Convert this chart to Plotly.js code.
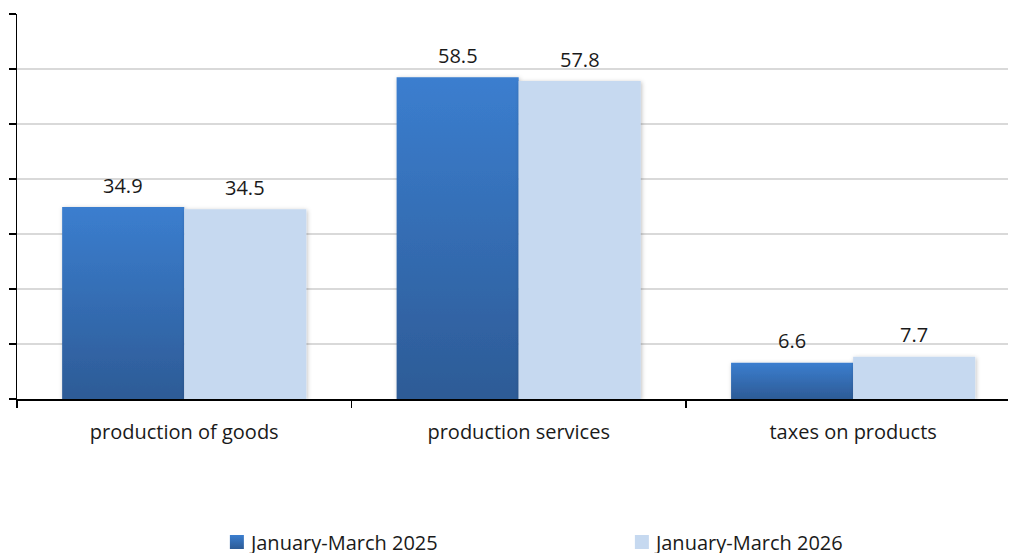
<!DOCTYPE html>
<html>
<head>
<meta charset="utf-8">
<script src="https://cdn.plot.ly/plotly-3.0.1.min.js"></script>
<style>html,body{margin:0;padding:0;background:#fff;overflow:hidden;}#chart{width:1009px;height:553px;}</style>
</head>
<body>
<div id="chart"></div>
<script>
const categories = ["production of goods", "production services", "taxes on products"];
const series2025 = [34.9, 58.5, 6.6];
const series2026 = [34.5, 57.8, 7.7];
const seriesNames = ["January-March 2025", "January-March 2026"];

const FONT = "'Open Sans', 'Noto Sans', sans-serif";
const LABEL_FONT = {family: FONT, size: 20, color: "#1a1a1a"};

const traces = [
  {
    type: "bar", name: seriesNames[0], x: categories, y: series2025,
    marker: {color: "#3571bd", line: {width: 0}}, hoverinfo: "skip"
  },
  {
    type: "bar", name: seriesNames[1], x: categories, y: series2026,
    marker: {color: "#c6d9f0", line: {width: 0}}, hoverinfo: "skip"
  }
];

// value labels placed above each bar, positioned from the data through the axes
const annotations = [];
[series2025, series2026].forEach((vals, si) => {
  vals.forEach((v, ci) => {
    annotations.push({
      x: categories[ci], y: v, xref: "x", yref: "y",
      xshift: si === 0 ? -61 : 61, yshift: 22,
      text: v.toFixed(1), showarrow: false, yanchor: "middle", xanchor: "center",
      font: LABEL_FONT
    });
  });
});

const layout = {
  width: 1009, height: 553,
  margin: {l: 17, r: 1, t: 14, b: 154, autoexpand: false},
  paper_bgcolor: "#ffffff", plot_bgcolor: "#ffffff",
  barmode: "group", bargap: 0.27, bargroupgap: 0,
  font: LABEL_FONT,
  showlegend: true,
  annotations: annotations,
  legend: {
    orientation: "h", xref: "container", x: 0.209, xanchor: "left",
    yref: "container", y: 0.02, yanchor: "middle",
    font: {family: FONT, size: 20, color: "#1a1a1a"},
    entrywidth: 360, entrywidthmode: "pixels", itemwidth: 30
  },
  xaxis: {
    type: "category", range: [-0.5, 2.463], autorange: false,
    showline: true, linecolor: "#000000", linewidth: 1.5,
    ticks: "outside", tickson: "boundaries", ticklen: 7, tickcolor: "#000000", tickwidth: 1.5,
    ticklabelstandoff: 14,
    tickfont: LABEL_FONT,
    showgrid: false, zeroline: false, fixedrange: true
  },
  yaxis: {
    range: [0, 70], dtick: 10, tick0: 0,
    showline: true, linecolor: "#000000", linewidth: 1.5,
    ticks: "outside", ticklen: 7, tickcolor: "#000000", tickwidth: 1.5,
    showticklabels: false,
    showgrid: true, gridcolor: "#d9d9d9", gridwidth: 1.5,
    zeroline: false, fixedrange: true
  }
};

function decorate(gd) {
  const svg = gd.querySelector("svg.main-svg");
  const ns = "http://www.w3.org/2000/svg";
  if (!document.getElementById("darkGrad")) {
    let defs = svg.querySelector("defs");
    if (!defs) { defs = document.createElementNS(ns, "defs"); svg.insertBefore(defs, svg.firstChild); }
    const grad = document.createElementNS(ns, "linearGradient");
    grad.setAttribute("id", "darkGrad");
    grad.setAttribute("x1", "0"); grad.setAttribute("y1", "0");
    grad.setAttribute("x2", "0"); grad.setAttribute("y2", "1");
    [["0", "#3b7ecf"], ["1", "#2d5b96"]].forEach(([o, c]) => {
      const s = document.createElementNS(ns, "stop");
      s.setAttribute("offset", o); s.setAttribute("stop-color", c);
      grad.appendChild(s);
    });
    defs.appendChild(grad);
    const filt = document.createElementNS(ns, "filter");
    filt.setAttribute("id", "barShadow");
    filt.setAttribute("x", "-10%"); filt.setAttribute("y", "-10%");
    filt.setAttribute("width", "120%"); filt.setAttribute("height", "120%");
    const ds = document.createElementNS(ns, "feDropShadow");
    ds.setAttribute("dx", "1"); ds.setAttribute("dy", "1");
    ds.setAttribute("stdDeviation", "2"); ds.setAttribute("flood-color", "#000");
    ds.setAttribute("flood-opacity", "0.25");
    filt.appendChild(ds);
    defs.appendChild(filt);
  }
  gd.querySelectorAll(".barlayer .trace").forEach((t, i) => {
    t.querySelectorAll(".point path").forEach(p => {
      if (i === 0) p.style.fill = "url(#darkGrad)";
      p.setAttribute("filter", "url(#barShadow)");
    });
  });
  gd.querySelectorAll(".legend .traces").forEach((lt, i) => {
    const txt = lt.querySelector(".legendtext");
    const paths = lt.querySelectorAll(".legendpoints path");
    if (!txt || !paths.length) return;
    const tl = txt.getBoundingClientRect().left;
    paths.forEach(p => {
      if (i === 0) p.style.fill = "url(#darkGrad)";
      p.setAttribute("d", "M7,7H-7V-7H7Z");
      p.removeAttribute("transform");
      const r = p.getBoundingClientRect();
      const shift = (tl - 5) - r.right;
      p.setAttribute("transform", "translate(" + shift + ",0)");
    });
  });
}

Plotly.newPlot("chart", traces, layout, {displayModeBar: false, staticPlot: true}).then(gd => {
  decorate(gd);
  setTimeout(() => decorate(gd), 50);
  setTimeout(() => decorate(gd), 300);
});
</script>
</body>
</html>
